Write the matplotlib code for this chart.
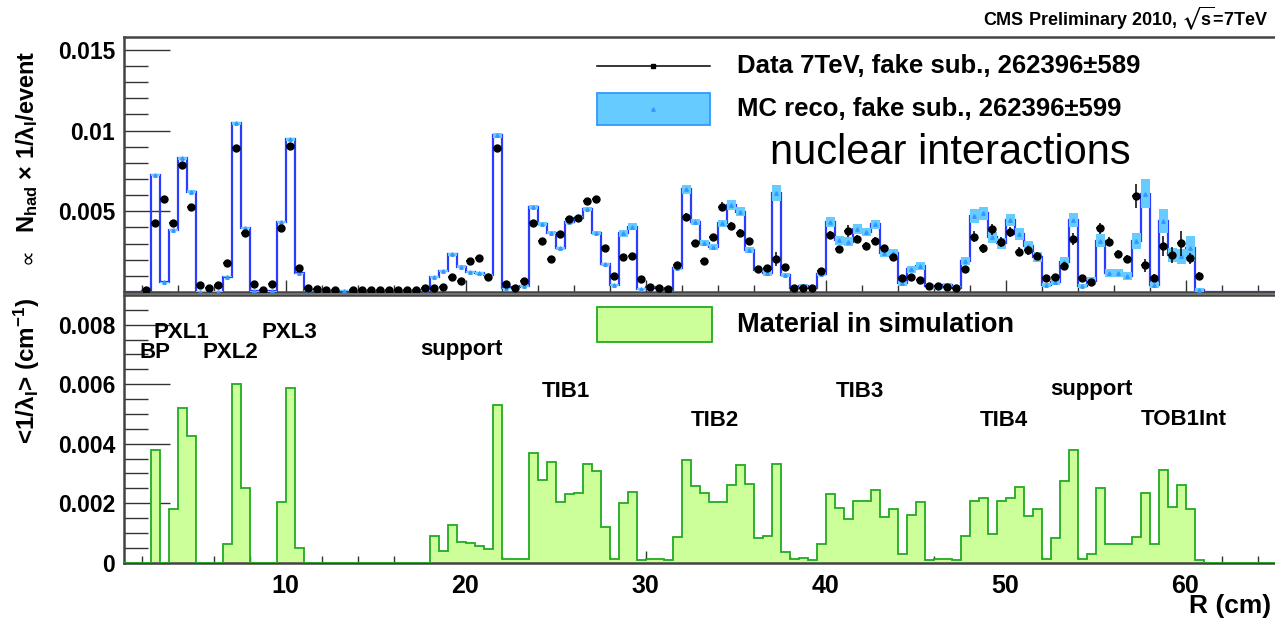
# CMS 2010 nuclear interactions vs material (R distribution)
import numpy as np
import matplotlib
matplotlib.use('Agg')
import matplotlib.pyplot as plt
from matplotlib.patches import Rectangle
from matplotlib.ticker import MultipleLocator, FixedLocator, FixedFormatter

plt.rcParams['font.family'] = ['Liberation Sans', 'DejaVu Sans']
plt.rcParams['font.weight'] = 'bold'
plt.rcParams['mathtext.fontset'] = 'custom'
plt.rcParams['mathtext.rm'] = 'Liberation Sans'
plt.rcParams['mathtext.bf'] = 'Liberation Sans:bold'
plt.rcParams['mathtext.default'] = 'bf'
plt.rcParams['mathtext.fallback'] = 'stixsans'

nan = np.nan
SCALE = 1e-3   # all values below are in units of 1e-3

# bins of 0.5 cm starting at R = 1 cm, one list per 10 cm
# material in simulation  <1/lambda_I> (cm^-1)
mat_01_11 = [0, 0, 0, 3.80, 0, 1.80, 5.20, 4.26, 0, 0, 0, 0.63, 6.00, 2.52, 0, 0, 0, 2.03, 5.87, 0.50]
mat_11_21 = [0, 0, 0, 0, 0, 0, 0, 0, 0, 0, 0, 0, 0, 0, 0.90, 0.39, 1.27, 0.68, 0.66, 0.56]
mat_21_31 = [0.47, 5.30, 0.11, 0.13, 0.13, 3.68, 2.78, 3.37, 2.03, 2.30, 2.35, 3.32, 3.09, 1.21, 0.13, 2.01, 2.37, 0.10, 0.12, 0.12]
mat_31_41 = [0.10, 0.85, 3.45, 2.57, 2.33, 2.03, 2.03, 2.60, 3.29, 2.66, 0.82, 0.90, 3.31, 0.37, 0.12, 0.15, 0.10, 0.63, 2.30, 1.85]
mat_41_51 = [1.48, 2.07, 2.07, 2.43, 1.53, 1.80, 0.28, 1.62, 2.03, 0.10, 0.11, 0.13, 0.10, 0.90, 2.07, 2.19, 0.97, 2.07, 2.19, 2.55]
mat_51_61 = [1.57, 1.80, 0.13, 0.82, 2.74, 3.80, 0.13, 0.28, 2.52, 0.63, 0.63, 0.63, 0.86, 2.34, 0.63, 3.13, 1.88, 2.62, 1.79, 0.10]

# MC reco, fake sub.
mc_01_11 = [0, 0, 0.05, 7.25, 0.60, 3.84, 8.28, 6.22, 0.03, 0.03, 0.03, 0.95, 10.45, 3.94, 0.05, 0.03, 0.05, 4.36, 9.46, 1.16]
mc_11_21 = [0.12, 0.10, 0.08, 0.08, 0.08, 0.08, 0.08, 0.08, 0.08, 0.08, 0.08, 0.08, 0.08, 0.10, 0.91, 1.32, 2.33, 1.57, 1.22, 1.15]
mc_21_31 = [1.05, 9.70, 0.23, 0.30, 0.37, 5.29, 4.21, 3.68, 2.70, 4.32, 4.57, 5.14, 3.68, 1.71, 0.43, 3.63, 4.05, 0.20, 0.30, 0.25]
mc_31_41 = [0.12, 1.47, 6.36, 4.32, 3.06, 2.77, 4.25, 5.40, 4.98, 2.60, 1.36, 1.16, 6.11, 1.05, 0.25, 0.37, 0.25, 1.12, 4.32, 3.22]
mc_41_51 = [3.12, 3.90, 3.70, 4.20, 2.44, 2.40, 0.54, 1.40, 1.61, 0.37, 0.30, 0.43, 0.25, 1.94, 4.71, 4.88, 3.39, 3.02, 4.46, 3.60]
mc_51_61 = [2.85, 2.15, 0.43, 0.64, 1.88, 4.46, 0.37, 0.70, 3.18, 1.20, 1.20, 0.99, 3.16, 6.10, 0.43, 4.40, 2.30, 2.20, 2.70, 0.12]

mcerr_01_11 = [0, 0, 0.02, 0.08, 0.03, 0.06, 0.09, 0.08, 0.02, 0.02, 0.02, 0.04, 0.10, 0.06, 0.02, 0.02, 0.02, 0.07, 0.10, 0.04]
mcerr_11_21 = [0.03, 0.03, 0.03, 0.03, 0.03, 0.03, 0.03, 0.03, 0.03, 0.03, 0.03, 0.03, 0.03, 0.03, 0.06, 0.07, 0.10, 0.08, 0.07, 0.07]
mcerr_21_31 = [0.07, 0.15, 0.04, 0.04, 0.05, 0.12, 0.10, 0.10, 0.10, 0.10, 0.12, 0.15, 0.12, 0.10, 0.06, 0.20, 0.22, 0.05, 0.06, 0.05]
mcerr_31_41 = [0.05, 0.12, 0.28, 0.18, 0.18, 0.18, 0.22, 0.30, 0.28, 0.18, 0.15, 0.18, 0.50, 0.15, 0.08, 0.10, 0.08, 0.15, 0.30, 0.28]
mcerr_41_51 = [0.28, 0.30, 0.25, 0.28, 0.28, 0.28, 0.15, 0.22, 0.22, 0.10, 0.10, 0.12, 0.10, 0.25, 0.42, 0.40, 0.35, 0.35, 0.40, 0.35]
mcerr_51_61 = [0.30, 0.30, 0.15, 0.20, 0.30, 0.45, 0.15, 0.25, 0.42, 0.25, 0.25, 0.22, 0.50, 0.90, 0.20, 0.75, 0.45, 0.45, 0.75, 0.12]

# Data 7TeV, fake sub.
data_01_11 = [nan, nan, 0.10, 4.30, 5.78, 4.26, 7.87, 5.29, 0.43, 0.23, 0.43, 1.82, 8.94, 3.68, 0.50, 0.12, 0.50, 3.94, 9.05, 1.51]
data_11_21 = [0.27, 0.20, 0.12, 0.10, nan, 0.10, 0.10, 0.10, 0.10, 0.10, 0.10, 0.10, 0.14, 0.23, 0.27, 0.30, 0.95, 0.68, 1.92, 2.09]
data_21_31 = [0.90, 8.90, 0.50, 0.23, 0.68, 4.30, 3.16, 2.02, 3.60, 4.52, 4.57, 5.64, 5.74, 2.75, 0.99, 2.15, 2.25, 0.79, 0.30, 0.23]
data_31_41 = [0.20, 1.67, 4.67, 3.06, 1.92, 3.39, 5.29, 4.09, 3.68, 3.16, 1.43, 1.51, 2.04, 1.53, 0.23, 0.23, 0.23, 1.32, 3.53, 2.64]
data_41_51 = [3.78, 3.26, 2.86, 3.17, 2.70, 2.15, 0.85, 0.90, 0.74, 0.37, 0.37, 0.30, 0.25, 1.43, 3.43, 2.70, 3.88, 3.08, 3.70, 2.50]
data_51_61 = [2.60, 2.23, 0.85, 0.95, 1.61, 3.28, 0.85, 0.60, 3.94, 3.12, 2.35, 2.02, 5.97, 1.67, 0.89, 2.85, 2.30, 3.02, 2.09, 1.01]

derr_01_11 = [0, 0, 0.03, 0.08, 0.08, 0.07, 0.10, 0.08, 0.03, 0.03, 0.03, 0.05, 0.10, 0.07, 0.03, 0.02, 0.03, 0.07, 0.10, 0.05]
derr_11_21 = [0.03, 0.03, 0.03, 0.03, 0.03, 0.03, 0.03, 0.03, 0.03, 0.03, 0.03, 0.03, 0.03, 0.03, 0.04, 0.04, 0.06, 0.05, 0.07, 0.07]
derr_21_31 = [0.06, 0.12, 0.05, 0.04, 0.06, 0.12, 0.12, 0.10, 0.12, 0.14, 0.14, 0.15, 0.15, 0.12, 0.08, 0.12, 0.12, 0.07, 0.05, 0.05]
derr_31_41 = [0.05, 0.12, 0.20, 0.18, 0.15, 0.18, 0.28, 0.22, 0.20, 0.20, 0.15, 0.15, 0.45, 0.15, 0.08, 0.08, 0.08, 0.15, 0.25, 0.22]
derr_41_51 = [0.40, 0.25, 0.22, 0.25, 0.22, 0.22, 0.15, 0.15, 0.15, 0.10, 0.10, 0.10, 0.10, 0.20, 0.35, 0.30, 0.35, 0.30, 0.30, 0.28]
derr_51_61 = [0.28, 0.25, 0.15, 0.18, 0.25, 0.35, 0.18, 0.18, 0.33, 0.28, 0.25, 0.25, 0.75, 0.40, 0.25, 0.60, 0.50, 0.77, 0.33, 0.25]

# detector labels (name, R of left edge, height of baseline)
det_names = ['PXL1', 'BP', 'PXL2', 'PXL3', 'support', 'TIB1', 'TIB2', 'TIB3', 'TIB4', 'support', 'TOB1Int']
det_r = [2.65, 1.9, 5.4, 8.65, 17.5, 24.25, 32.5, 40.55, 48.55, 52.5, 57.5]
det_y = [0.00754, 0.00688, 0.00688, 0.00754, 0.00699, 0.00556, 0.00460, 0.00556, 0.00460, 0.00565, 0.00462]

edges = np.arange(1.0, 65.01, 0.5)
centres = edges[:-1] + 0.25
tail = [0] * 8   # 61 - 65 cm is empty


def join(*parts):
    out = []
    for p in parts:
        out += p
    return np.array(out + tail, dtype=float) * SCALE


mat = join(mat_01_11, mat_11_21, mat_21_31, mat_31_41, mat_41_51, mat_51_61)
mc = join(mc_01_11, mc_11_21, mc_21_31, mc_31_41, mc_41_51, mc_51_61)
mcerr = join(mcerr_01_11, mcerr_11_21, mcerr_21_31, mcerr_31_41, mcerr_41_51, mcerr_51_61)
data = join(data_01_11, data_11_21, data_21_31, data_31_41, data_41_51, data_51_61)
derr = join(derr_01_11, derr_11_21, derr_21_31, derr_31_41, derr_41_51, derr_51_61)
data[data == 0] = nan

W, H = 1275.0, 622.0
fig = plt.figure(figsize=(W / 100, H / 100), dpi=100)
left = 123.5 / W
width = (1275.5 - 123.5) / W
ax1 = fig.add_axes([left, 1 - 292 / H, width, 255 / H])
ax2 = fig.add_axes([left, 1 - 562.7 / H, width, 267.7 / H])

frame_col = '#444444'
for ax in (ax1, ax2):
    for s in ax.spines.values():
        s.set_color(frame_col)
        s.set_linewidth(1.8)
    ax.set_xlim(1, 65)
    ax.xaxis.set_major_locator(MultipleLocator(10))
    ax.xaxis.set_minor_locator(MultipleLocator(2))
    ax.tick_params(axis='x', which='major', direction='in', length=9, width=1, color='#333333',
                   labelsize=18, pad=8)
    ax.tick_params(axis='x', which='minor', direction='in', length=5, width=1, color='#333333')
    ax.tick_params(axis='y', which='both', direction='in', width=1, color='#333333', labelsize=16.5, pad=6)
    ax.tick_params(axis='y', which='major', length=33)
    ax.tick_params(axis='y', which='minor', length=17)

# ---- top panel: nuclear interactions ----
ax1.stairs(mc, edges, color='#2a3cff', lw=1.6, zorder=2)
ok = mc > 0
ax1.bar(centres[ok], 2 * mcerr[ok], bottom=mc[ok] - mcerr[ok], width=0.5,
        color='#66ccff', lw=0, zorder=3)
ax1.plot(centres[ok], mc[ok], '^', ms=2.5, color='#3399ff', zorder=4)
ax1.errorbar(centres, data, yerr=derr, xerr=0.22, fmt='o', ms=5, color='k',
             ecolor='k', elinewidth=1.1, capsize=0, zorder=5)
ax1.set_ylim(0, 0.0158)
ax1.yaxis.set_major_locator(FixedLocator([0, 0.005, 0.01, 0.015]))
ax1.yaxis.set_major_formatter(FixedFormatter(['', '0.005', '0.01', '0.015']))
ax1.yaxis.set_minor_locator(MultipleLocator(0.001))
ax1.tick_params(axis='x', labelbottom=False)

# legend of the top panel
ax1.plot([0.411, 0.509], [0.886, 0.886], transform=ax1.transAxes, color='k', lw=1.1)
ax1.plot([0.460], [0.886], 's', ms=3.5, color='k', transform=ax1.transAxes)
ax1.add_patch(Rectangle((0.411, 0.655), 0.098, 0.125, transform=ax1.transAxes,
                        fc='#66ccff', ec='#3399ff', lw=1.3, clip_on=False))
ax1.plot([0.460], [0.718], '^', ms=2.5, color='#3399ff', transform=ax1.transAxes)
ax1.text(0.5326, 0.886, 'Data 7TeV, fake sub., 262396±589', transform=ax1.transAxes,
         fontsize=18.5, va='center', ha='left')
ax1.text(0.5326, 0.718, 'MC reco, fake sub., 262396±599', transform=ax1.transAxes,
         fontsize=18.5, va='center', ha='left')
ax1.text(0.561, 0.545, 'nuclear interactions', transform=ax1.transAxes,
         fontsize=30, fontweight='normal', va='center', ha='left')

# ---- bottom panel: material ----
ax2.stairs(mat, edges, fill=True, facecolor='#ccff99', edgecolor='none', zorder=2)
ax2.stairs(mat, edges, color='#22aa22', lw=1.3, zorder=3)
ax2.set_ylim(0, 0.009)
ax2.yaxis.set_major_locator(MultipleLocator(0.002))
ax2.yaxis.set_minor_locator(MultipleLocator(0.0005))
ax2.yaxis.set_major_formatter(plt.FuncFormatter(lambda v, p: '%g' % round(v, 4)))

ax2.add_patch(Rectangle((0.411, 0.824), 0.100, 0.131, transform=ax2.transAxes,
                        fc='#ccff99', ec='#22aa22', lw=1.3, clip_on=False))
ax2.text(0.5326, 0.888, 'Material in simulation', transform=ax2.transAxes,
         fontsize=19.5, va='center', ha='left')

for name, r, y in zip(det_names, det_r, det_y):
    ax2.text(r, y, name, fontsize=16, ha='left', va='baseline')

# axis titles
fig.text(27 / W, 1 - 256 / H, '∝', rotation=90, family='DejaVu Sans', fontweight='normal',
         ha='center', va='center', fontsize=16)
fig.text(27 / W, 1 - 142 / H, 'N$_{had}$ × 1/λ$_{I}$/event', rotation=90,
         ha='center', va='center', fontsize=17)
fig.text(27 / W, 1 - 371 / H, '<1/λ$_{I}$> (cm$^{-1}$)', rotation=90,
         ha='center', va='center', fontsize=17.5)
fig.text(1271 / W, 1 - 606 / H, 'R (cm)', ha='right', va='center', fontsize=19)
fig.text(1268 / W, 1 - 18 / H, r'CMS Preliminary 2010, $\sqrt{s}$=7TeV', ha='right',
         va='center', fontsize=13)

fig.savefig('out.png', dpi=100)
